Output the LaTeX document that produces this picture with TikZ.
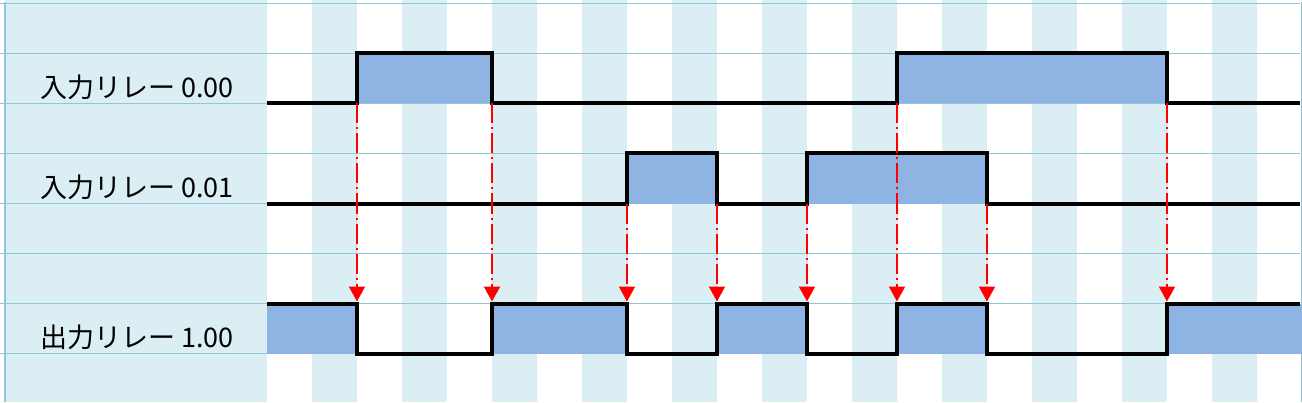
\documentclass[tikz,border=0pt]{standalone}
\usepackage{fontspec}
\setmainfont{Noto Sans CJK JP}
\usepackage{tikz}
\usetikzlibrary{arrows.meta,positioning,calc}

\definecolor{cellblue}{HTML}{DAEEF3}
\definecolor{gridblue}{HTML}{92C5D6}
\definecolor{pulseblue}{HTML}{8EB4E3}

\begin{document}
\begin{tikzpicture}[x=22.5pt,y=25pt,>={Triangle[length=7.5pt,width=8pt]},
                    shorten >=1pt,semithick]
  \tikzstyle{stripe}=[fill=cellblue]
  \tikzstyle{gridline}=[draw=gridblue,line width=0.6pt]
  \tikzstyle{pulse}=[fill=pulseblue]
  \tikzstyle{signal}=[draw=black,line width=2pt]
  \tikzstyle{trigger}=[->,draw=red,fill=red,line width=1pt,
                       dash pattern=on 10pt off 2pt on 1pt off 2pt]
  \tikzstyle{relay}=[anchor=base,font=\fontsize{13.5pt}{16pt}\selectfont]

  \useasboundingbox (-5.9333,-0.97) rectangle (23,7.07);

  % background columns
  \fill[stripe] (-5.82,-0.97) rectangle (0,7.07);
  \foreach \k in {1,3,...,21}
    \fill[stripe] (\k,-0.97) rectangle (\k+1,7.07);
  \foreach \r in {0,...,7}
    \draw[gridline] (-5.9333,\r) -- (23,\r);
  \draw[gridline] (-5.82,-0.97) -- (-5.82,7.07);
  \draw[gridline] (22.98,-0.97) -- (22.98,7.07);

  % labels
  \node[relay] (in0)  at (-2.89,5.12) {入力リレー 0.00};
  \node[relay] (in1)  at (-2.89,3.12) {入力リレー 0.01};
  \node[relay] (out0) at (-2.89,0.12) {出力リレー 1.00};

  % pulses
  \fill[pulse] (2,5) rectangle (5,6);
  \fill[pulse] (14,5) rectangle (20,6);
  \fill[pulse] (8,3) rectangle (10,4);
  \fill[pulse] (12,3) rectangle (16,4);
  \foreach \a/\b in {0/2,5/8,10/12,14/16,20/23}
    \fill[pulse] (\a,0) rectangle (\b,1);

  % signals
  \draw[signal] (0,5) -- (2,5) -- (2,6) -- (5,6) -- (5,5) -- (14,5)
                -- (14,6) -- (20,6) -- (20,5) -- (23,5);
  \draw[signal] (0,3) -- (8,3) -- (8,4) -- (10,4) -- (10,3) -- (12,3)
                -- (12,4) -- (16,4) -- (16,3) -- (23,3);
  \draw[signal] (0,1) -- (2,1) -- (2,0) -- (5,0) -- (5,1) -- (8,1)
                -- (8,0) -- (10,0) -- (10,1) -- (12,1) -- (12,0) -- (14,0)
                -- (14,1) -- (16,1) -- (16,0) -- (20,0) -- (20,1) -- (23,1);

  % edges to output
  \foreach \t/\r in {2/5,5/5,8/3,10/3,12/3,14/5,16/3,20/5}{
    \coordinate (s\t) at (\t,\r);
    \coordinate (e\t) at (\t,1);
    \draw[trigger] (s\t) -- (e\t);
  }

\end{tikzpicture}
\end{document}
